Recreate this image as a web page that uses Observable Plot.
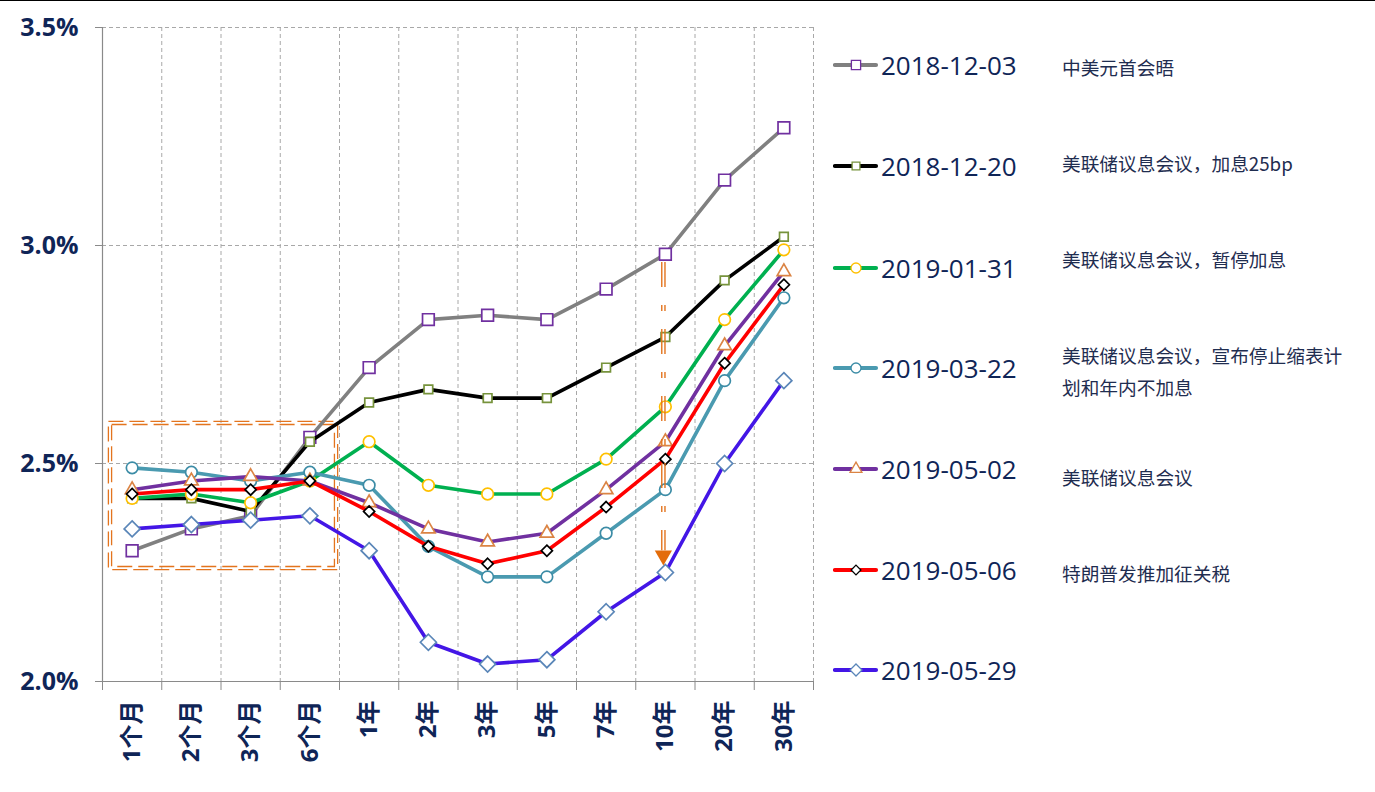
<!DOCTYPE html>
<html>
<head>
<meta charset="utf-8">
<script src="https://cdn.jsdelivr.net/npm/d3@7"></script>
<script src="https://cdn.jsdelivr.net/npm/@observablehq/plot@0.6"></script>
<style>
  html, body { margin: 0; padding: 0; background: #fff; }
  body { width: 1375px; height: 792px; position: relative; overflow: hidden; }
  #topline { position: absolute; left: 0; top: 0; width: 1375px; height: 1px; background: #000; }
  #chart { position: absolute; left: 0; top: 0; }
  .leg { position: absolute; left: 833px; height: 30px; display: flex; align-items: center; }
  .leg svg { display: block; }
  .leg .date { margin-left: 2px; font-family: "Open Sans", "Noto Sans", sans-serif; font-size: 26px; color: #0F2557; line-height: 30px; white-space: nowrap; }
  .note { position: absolute; left: 1062px; font-family: "Noto Sans CJK SC", "Open Sans", sans-serif; font-size: 18.7px; color: #1F2D50; line-height: 32px; white-space: nowrap; }
</style>
</head>
<body>
<div id="topline"></div>
<div id="chart"></div>
<div id="legend"></div>
<script>
// ---------- data ----------
const categories = ["1个月","2个月","3个月","6个月","1年","2年","3年","5年","7年","10年","20年","30年"];
const seriesNames = ["2018-12-03","2018-12-20","2019-01-31","2019-03-22","2019-05-02","2019-05-06","2019-05-29"];
const notes = ["中美元首会晤","美联储议息会议，加息25bp","美联储议息会议，暂停加息","美联储议息会议，宣布停止缩表计\n划和年内不加息","美联储议息会议","特朗普发推加征关税",""];
const y20181203 = [2.30,2.35,2.38,2.56,2.72,2.83,2.84,2.83,2.90,2.98,3.15,3.27];
const y20181220 = [2.42,2.42,2.39,2.55,2.64,2.67,2.65,2.65,2.72,2.79,2.92,3.02];
const y20190131 = [2.42,2.43,2.41,2.46,2.55,2.45,2.43,2.43,2.51,2.63,2.83,2.99];
const y20190322 = [2.49,2.48,2.46,2.48,2.45,2.31,2.24,2.24,2.34,2.44,2.69,2.88];
const y20190502 = [2.44,2.46,2.47,2.46,2.41,2.35,2.32,2.34,2.44,2.55,2.77,2.94];
const y20190506 = [2.43,2.44,2.44,2.46,2.39,2.31,2.27,2.30,2.40,2.51,2.73,2.91];
const y20190529 = [2.35,2.36,2.37,2.38,2.30,2.09,2.04,2.05,2.16,2.25,2.50,2.69];
const yTicks = [2.0, 2.5, 3.0, 3.5];

const seriesValues = [y20181203, y20181220, y20190131, y20190322, y20190502, y20190506, y20190529];

// ---------- styles ----------
const styles = [
  {line: "#808080", sym: "square",   r: 6.6, mstroke: "#7030A0", lr: 5.2},
  {line: "#000000", sym: "square",   r: 4.9, mstroke: "#77933C", lr: 4.4},
  {line: "#00B050", sym: "circle",   r: 5.8, mstroke: "#FFC000", lr: 5.0},
  {line: "#4A9AB0", sym: "circle",   r: 5.8, mstroke: "#3C8CA6", lr: 5.0},
  {line: "#7030A0", sym: "triangle", r: 5.0, mstroke: "#DB8444", lr: 4.4},
  {line: "#FF0000", sym: "diamond2", r: 5.0, mstroke: "#000000", lr: 4.4},
  {line: "#4316E6", sym: "diamond2", r: 7.2, mstroke: "#5A86B8", lr: 5.4}
];
const orange = "#E3741E";
const grid = "#A8A8A8";
const axisGray = "#8A8A8A";
const navy = "#0F2557";
const font = "'Open Sans','Noto Sans CJK SC',sans-serif";

const seriesMarks = seriesNames.flatMap((name, s) => {
  const rows = seriesValues[s].map((v, i) => ({i, v}));
  const st = styles[s];
  return [
    Plot.line(rows, {x: "i", y: "v", stroke: st.line, strokeWidth: 3.6, strokeLinejoin: "round"}),
    Plot.dot(rows, {x: "i", y: "v", symbol: st.sym, r: st.r, fill: "white", stroke: st.mstroke, strokeWidth: 1.7})
  ];
});

const bounds = d3.range(-0.5, 12, 1);
const inner = d3.range(0.5, 12, 1);

const chart = Plot.plot({
  width: 820,
  height: 792,
  marginTop: 27,
  marginLeft: 102,
  marginRight: 7,
  marginBottom: 111,
  x: {type: "linear", domain: [-0.5, 11.5], label: null},
  y: {domain: [2.0, 3.5], label: null},
  style: {fontFamily: font, background: "transparent", overflow: "visible"},
  marks: [
    Plot.ruleY(yTicks.filter(d => d > 2.0), {stroke: grid, strokeDasharray: "4,3", strokeWidth: 1}),
    Plot.ruleX(inner, {stroke: grid, strokeDasharray: "4,3", strokeWidth: 1}),
    Plot.ruleX([-0.5], {stroke: axisGray, strokeWidth: 1.2}),
    Plot.ruleY([2.0], {stroke: axisGray, strokeWidth: 1.2}),
    Plot.axisY({ticks: yTicks, tickFormat: d => d.toFixed(1) + "%", tickSize: 7, tickPadding: 17, label: null,
      stroke: axisGray, fill: navy, fontSize: 25, fontWeight: "bold"}),
    Plot.axisX({ticks: bounds, tickSize: 9, tickFormat: () => "", stroke: axisGray, label: null}),
    Plot.axisX({ticks: d3.range(0, 12), tickSize: 0, tickPadding: 19, tickRotate: -90, label: null,
      tickFormat: i => categories[i], fill: navy, fontSize: 24, fontWeight: "bold"}),
    // dashed double box around short end
    Plot.rect([0], {x1: -0.365, x2: 3.45, y1: 2.259, y2: 2.592, fill: "none", stroke: orange, strokeWidth: 1.3, strokeDasharray: "15,6", inset: -1.6}),
    Plot.rect([0], {x1: -0.365, x2: 3.45, y1: 2.259, y2: 2.592, fill: "none", stroke: orange, strokeWidth: 1.3, strokeDasharray: "15,6", inset: 1.6}),
    ...seriesMarks,
    // arrow at 10年
    Plot.ruleX([9], {y1: 2.961, y2: 2.30, dx: -3.6, stroke: orange, strokeWidth: 1.4, strokeDasharray: "25,18,6,18"}),
    Plot.ruleX([9], {y1: 2.961, y2: 2.30, dx: -0.4, stroke: orange, strokeWidth: 1.4, strokeDasharray: "25,18,6,18"}),
    Plot.dot([9], {x: d => d, y: () => 2.289, dx: -2, symbol: "triangle", rotate: 180, r: 6.4, fill: "#E36C0A", stroke: "none"})
  ]
});
document.getElementById("chart").appendChild(chart);

// ---------- legend ----------
const legendY = [65, 166, 268, 368, 469, 570, 670];
const noteY = [[67], [163], [259], [355, 387], [477], [573], []];
const legend = document.getElementById("legend");
seriesNames.forEach((name, s) => {
  const st = styles[s];
  const row = document.createElement("div");
  row.className = "leg";
  row.style.top = (legendY[s] - 15) + "px";
  const svg = d3.create("svg").attr("width", 46).attr("height", 30);
  svg.append("line").attr("x1", 2).attr("x2", 43).attr("y1", 15).attr("y2", 15)
    .attr("stroke", st.line).attr("stroke-width", 4.2).attr("stroke-linecap", "round");
  const symType = {square: d3.symbolSquare, circle: d3.symbolCircle, triangle: d3.symbolTriangle, diamond2: d3.symbolDiamond2}[st.sym];
  svg.append("path").attr("d", d3.symbol(symType, Math.PI * st.lr * st.lr)())
    .attr("transform", "translate(23,15)").attr("fill", "white").attr("stroke", st.mstroke).attr("stroke-width", 1.3);
  row.appendChild(svg.node());
  const t = document.createElement("span");
  t.className = "date";
  t.textContent = name;
  row.appendChild(t);
  legend.appendChild(row);
  const lines = notes[s] ? notes[s].split("\n") : [];
  lines.forEach((ln, k) => {
    const n = document.createElement("div");
    n.className = "note";
    n.style.top = (noteY[s][k] - 16) + "px";
    n.textContent = ln;
    legend.appendChild(n);
  });
});
</script>
</body>
</html>
